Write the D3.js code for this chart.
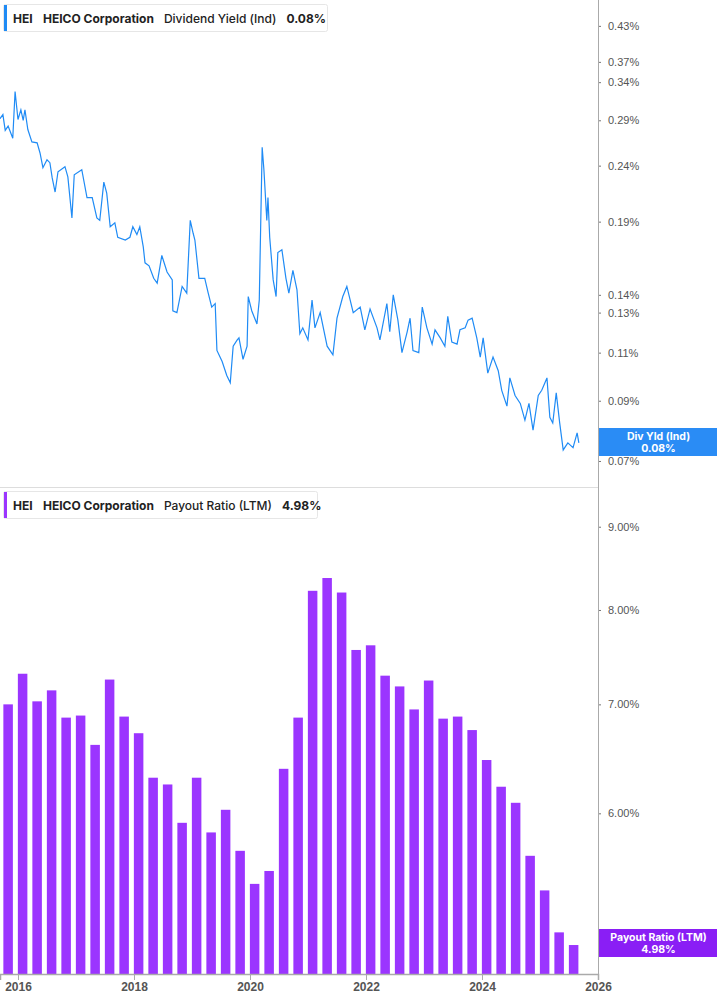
<!DOCTYPE html>
<html><head><meta charset="utf-8">
<script src="https://cdn.jsdelivr.net/npm/d3@7"></script>
<style>body{margin:0;background:#fff}svg{display:block;font-family:Inter,"Noto Sans",sans-serif}</style>
</head><body><svg id="c" width="717" height="1005"></svg>
<script>
const yieldDates=[2015.69,2015.74,2015.78,2015.83,2015.91,2015.95,2016.00,2016.05,2016.09,2016.12,2016.17,2016.24,2016.33,2016.38,2016.43,2016.50,2016.55,2016.59,2016.64,2016.69,2016.81,2016.86,2016.93,2016.97,2017.10,2017.19,2017.28,2017.36,2017.41,2017.48,2017.53,2017.59,2017.67,2017.72,2017.85,2017.93,2017.98,2018.05,2018.10,2018.16,2018.19,2018.26,2018.34,2018.40,2018.48,2018.57,2018.66,2018.67,2018.74,2018.83,2018.91,2018.97,2019.02,2019.05,2019.12,2019.22,2019.28,2019.34,2019.40,2019.43,2019.52,2019.60,2019.66,2019.71,2019.78,2019.81,2019.88,2019.95,2019.97,2020.03,2020.12,2020.16,2020.21,2020.24,2020.29,2020.31,2020.34,2020.40,2020.45,2020.48,2020.55,2020.62,2020.67,2020.74,2020.81,2020.86,2020.91,2021.00,2021.07,2021.12,2021.21,2021.33,2021.43,2021.50,2021.60,2021.67,2021.78,2021.90,2021.98,2022.07,2022.19,2022.24,2022.36,2022.41,2022.47,2022.55,2022.62,2022.71,2022.76,2022.81,2022.91,2022.97,2023.05,2023.14,2023.19,2023.28,2023.36,2023.41,2023.48,2023.57,2023.62,2023.71,2023.76,2023.83,2023.91,2023.97,2024.02,2024.10,2024.19,2024.28,2024.34,2024.43,2024.48,2024.57,2024.66,2024.74,2024.81,2024.88,2024.97,2025.03,2025.12,2025.17,2025.22,2025.28,2025.34,2025.40,2025.48,2025.57,2025.64,2025.67];
const yieldValues=[0.292,0.297,0.278,0.283,0.269,0.327,0.291,0.303,0.290,0.303,0.279,0.265,0.264,0.253,0.238,0.246,0.243,0.228,0.215,0.234,0.239,0.229,0.193,0.231,0.236,0.210,0.210,0.193,0.191,0.224,0.214,0.186,0.189,0.178,0.176,0.178,0.186,0.180,0.186,0.171,0.160,0.158,0.150,0.147,0.165,0.154,0.149,0.131,0.130,0.145,0.141,0.191,0.181,0.176,0.150,0.150,0.141,0.133,0.135,0.111,0.106,0.100,0.097,0.113,0.116,0.117,0.107,0.113,0.139,0.131,0.124,0.137,0.259,0.236,0.191,0.210,0.178,0.149,0.139,0.167,0.169,0.150,0.141,0.155,0.143,0.119,0.122,0.116,0.137,0.122,0.130,0.113,0.109,0.127,0.139,0.145,0.130,0.133,0.121,0.132,0.122,0.116,0.135,0.120,0.140,0.126,0.110,0.120,0.127,0.111,0.110,0.133,0.122,0.114,0.121,0.117,0.113,0.128,0.115,0.114,0.121,0.122,0.126,0.127,0.117,0.108,0.117,0.101,0.108,0.102,0.094,0.088,0.099,0.092,0.089,0.083,0.089,0.0796,0.092,0.094,0.099,0.084,0.082,0.093,0.082,0.0733,0.0755,0.074,0.0787,0.0755];
const payoutDates=d3.range(40).map(i=>2015.83+0.25*i);
const payoutValues=[7.00,7.31,7.03,7.14,6.87,6.89,6.61,7.25,6.88,6.72,6.31,6.25,5.92,6.31,5.84,6.03,5.69,5.43,5.53,6.39,6.87,8.22,8.37,8.20,7.56,7.61,7.29,7.18,6.95,7.24,6.86,6.88,6.75,6.47,6.23,6.09,5.65,5.38,5.07,4.98];
const yieldTicks=[0.43,0.37,0.34,0.29,0.24,0.19,0.14,0.13,0.11,0.09,0.07];
const payoutTicks=[9,8,7,6];
const yearTicks=[2016,2018,2020,2022,2024,2026];

const svg=d3.select("#c");
const W=598;
const x=d3.scaleLinear().domain([2015.69,2026.0]).range([0,W]);
const y1=d3.scaleLog().domain([0.0628,0.479]).range([487,0]);
const y2=d3.scaleLog().domain([4.78,9.48]).range([974,490]);

// separator
svg.append("line").attr("x1",0).attr("x2",W).attr("y1",487.5).attr("y2",487.5).attr("stroke","#ddd");
// line
svg.append("path").datum(yieldDates.map((d,i)=>[d,yieldValues[i]]))
 .attr("d",d3.line().x(d=>x(d[0])).y(d=>y1(d[1])))
 .attr("fill","none").attr("stroke","#1f8bf5").attr("stroke-width",1.2);
// bars
const bw=x(2015.83+0.164)-x(2015.83);
svg.selectAll("rect.bar").data(payoutDates).join("rect").attr("class","bar")
 .attr("x",d=>x(d)-bw/2).attr("width",bw)
 .attr("y",(d,i)=>y2(payoutValues[i])).attr("height",(d,i)=>974-y2(payoutValues[i]))
 .attr("fill","#9b35ff");

// right axes
const a1=svg.append("g").attr("transform",`translate(${W},0)`).call(d3.axisRight(y1).tickValues(yieldTicks).tickSize(3).tickFormat(d=>d.toFixed(2)+"%"));
const a2=svg.append("g").attr("transform",`translate(${W},0)`).call(d3.axisRight(y2).tickValues(payoutTicks).tickSize(3).tickFormat(d=>d.toFixed(2)+"%"));
[a1,a2].forEach(a=>{a.select(".domain").remove();a.selectAll("line").attr("stroke","#777");a.selectAll("text").attr("fill","#555").attr("font-size",11).attr("dx",4);});
svg.append("line").attr("x1",W+0.5).attr("x2",W+0.5).attr("y1",0).attr("y2",975).attr("stroke","#aaa");
// x axis
const ax=svg.append("g").attr("transform","translate(0,974)").call(d3.axisBottom(x).tickValues(yearTicks).tickSize(6).tickFormat(d3.format("d")));
ax.select(".domain").attr("stroke","#aaa").attr("stroke-width",1.5);
ax.selectAll("line").attr("stroke","#aaa");
ax.selectAll("text").attr("fill","#555").attr("font-size",12).attr("font-weight",600).attr("dy",8);

// legends
function legend(yTop,w,color,metric,val){
 const g=svg.append("g");
 g.append("rect").attr("x",3.5).attr("y",yTop+0.5).attr("width",w).attr("height",27).attr("rx",2).attr("fill","#fff").attr("stroke","#e6e6e6");
 g.append("rect").attr("x",4).attr("y",yTop+1).attr("width",3).attr("height",26).attr("fill",color);
 const t=g.append("text").attr("y",yTop+19).attr("font-size",12).attr("fill","#222");
 t.append("tspan").attr("x",13).attr("font-weight",700).text("HEI");
 t.append("tspan").attr("x",43).attr("font-weight",700).text("HEICO Corporation");
 t.append("tspan").attr("dx",10).attr("font-weight",500).text(metric);
 t.append("tspan").attr("dx",10).attr("font-weight",700).text(val);
}
legend(4,324,"#1f8bf5","Dividend Yield (Ind)","0.08%");
legend(491,314,"#9b35ff","Payout Ratio (LTM)","4.98%");

// value tags
function tag(yc,color,l1,l2){
 svg.append("rect").attr("x",W+1).attr("y",yc-14).attr("width",717-W).attr("height",28).attr("fill",color);
 svg.append("text").attr("x",(W+717)/2+1).attr("y",yc-2).attr("text-anchor","middle").attr("fill","#fff").attr("font-size",10.5).attr("font-weight",700).text(l1);
 svg.append("text").attr("x",(W+717)/2+1).attr("y",yc+10).attr("text-anchor","middle").attr("fill","#fff").attr("font-size",10.5).attr("font-weight",700).text(l2);
}
tag(442,"#2a8cf5","Div Yld (Ind)","0.08%");
tag(943,"#8a1ef5","Payout Ratio (LTM)","4.98%");
</script></body></html>
